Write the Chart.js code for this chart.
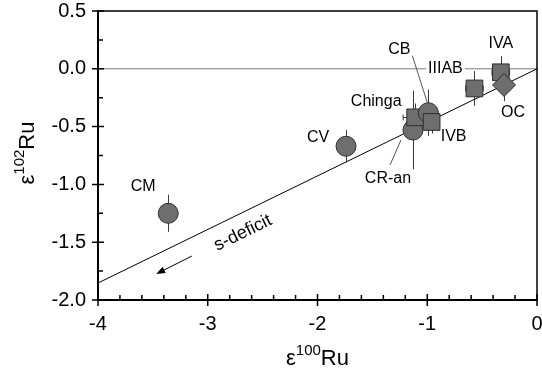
<!DOCTYPE html>
<html>
<head>
<meta charset="utf-8">
<script src="https://cdn.jsdelivr.net/npm/chart.js@4.4.1/dist/chart.umd.min.js"></script>
<style>
  html, body { margin: 0; padding: 0; background: #fff; overflow: hidden; }
  canvas { display: block; }
</style>
</head>
<body>
<canvas id="chart-ru" width="542" height="370"></canvas>
<script>
// Ru isotope anomalies of meteorite groups
var groups = ["CM", "CV", "CR-an", "Chinga", "CB", "IVB", "IIIAB", "IVA", "OC"];
var eps100 = [-3.36, -1.74, -1.13, -1.11, -0.99, -0.96, -0.57, -0.33, -0.30];
var eps102 = [-1.25, -0.67, -0.53, -0.42, -0.38, -0.46, -0.17, -0.03, -0.14];
var err102 = [0.16, 0.14, 0.34, 0.12, 0.20, 0.10, 0.15, 0.14, 0.14];
var err100 = [0, 0, 0, 0.11, 0, 0.06, 0.08, 0.08, 0];
var markers = ["circle", "circle", "circle", "rect", "circle", "rect", "rect", "rect", "rectRot"];

// s-process deficit mixing line through the origin
var mixX = [-4, 0];
var mixY = [-1.853, 0];

var xTicks = [-4, -3, -2, -1, 0];
var yTicks = [0.5, 0.0, -0.5, -1.0, -1.5, -2.0];

var FONT = "'Liberation Sans', Arial, sans-serif";

// plot box in canvas pixels
var BOX = { left: 98, top: 11, right: 537, bottom: 300 };

// label placement (pixel offsets from the marker) and leader lines
var labelStyle = {
    "CM": { dx: -25, dy: -27 },
    "CV": { dx: -28, dy: -9 },
    "CR-an": { dx: -25, dy: 49, leader: [[-23, 35], [-12, 10]] },
    "Chinga": { dx: -39, dy: -16 },
    "CB": { dx: -29, dy: -63, leader: [[-16, -57], [-1, -10]] },
    "IVB": { dx: 22, dy: 15 },
    "IIIAB": { dx: -29, dy: -20, box: true },
    "IVA": { dx: 0, dy: -29 },
    "OC": { dx: 9, dy: 28 }
};

var radiusFor = { circle: 10, rect: 11.8, rectRot: 11.5 };

var points = groups.map(function (g, i) {
    return { x: eps100[i], y: eps102[i] };
});

function drawEps(ctx, x, y, mass, rotate) {
    ctx.save();
    ctx.translate(x, y);
    if (rotate) ctx.rotate(-Math.PI / 2);
    ctx.fillStyle = "#000";
    ctx.textBaseline = "alphabetic";
    var big = "22px " + FONT;
    var small = "15px " + FONT;
    ctx.font = big;
    var w1 = ctx.measureText("\u03b5").width;
    var w3 = ctx.measureText("Ru").width;
    ctx.font = small;
    var w2 = ctx.measureText(mass).width;
    var total = w1 + w2 + w3;
    var x0 = -total / 2;
    ctx.font = big;
    ctx.textAlign = "left";
    ctx.fillText("\u03b5", x0, 8);
    ctx.font = small;
    ctx.fillText(mass, x0 + w1, -2);
    ctx.font = big;
    ctx.fillText("Ru", x0 + w1 + w2, 8);
    ctx.restore();
}

// drop the automatic label overhang so the plot box sits where the layout says
function fixBox(size, key) {
    return function (scale) {
        scale[key] = size;
        scale.paddingTop = 0;
        scale.paddingBottom = 0;
        scale.paddingLeft = 0;
        scale.paddingRight = 0;
    };
}

var framePlugin = {
    id: "frame",
    // pin the plot area, then let the scales recompute their pixel ranges
    afterLayout: function (chart) {
        var a = chart.chartArea, xs = chart.scales.x, ys = chart.scales.y;
        a.left = BOX.left; a.right = BOX.right; a.top = BOX.top; a.bottom = BOX.bottom;
        a.width = a.right - a.left; a.height = a.bottom - a.top;
        xs.left = a.left; xs.right = a.right; xs.width = a.width;
        xs.top = a.bottom; xs.bottom = chart.height; xs.height = xs.bottom - xs.top;
        ys.top = a.top; ys.bottom = a.bottom; ys.height = a.height;
        ys.left = 0; ys.right = a.left; ys.width = a.left;
        xs.configure();
        ys.configure();
    },
    beforeDatasetDraw: function (chart, args) {
        if (args.index !== 0) return;
        // error bars under the markers
        var xs = chart.scales.x, ys = chart.scales.y, ctx = chart.ctx;
        ctx.save();
        ctx.strokeStyle = "#3a3a3a";
        ctx.lineWidth = 1;
        groups.forEach(function (g, i) {
            var px = Math.round(xs.getPixelForValue(eps100[i])) + 0.5;
            var py = Math.round(ys.getPixelForValue(eps102[i])) + 0.5;
            if (err102[i] > 0) {
                ctx.beginPath();
                ctx.moveTo(px, ys.getPixelForValue(eps102[i] + err102[i]));
                ctx.lineTo(px, ys.getPixelForValue(eps102[i] - err102[i]));
                ctx.stroke();
            }
            if (err100[i] > 0) {
                var l = xs.getPixelForValue(eps100[i] - err100[i]);
                var r = xs.getPixelForValue(eps100[i] + err100[i]);
                ctx.beginPath();
                ctx.moveTo(l, py);
                ctx.lineTo(r, py);
                ctx.moveTo(l, py - 3);
                ctx.lineTo(l, py + 3);
                ctx.moveTo(r, py - 3);
                ctx.lineTo(r, py + 3);
                ctx.stroke();
            }
        });
        ctx.restore();
    },
    afterDraw: function (chart) {
        var ctx = chart.ctx, a = chart.chartArea;
        var xs = chart.scales.x, ys = chart.scales.y;
        ctx.save();

        // labels
        ctx.font = "16px " + FONT;
        ctx.textAlign = "center";
        ctx.textBaseline = "middle";
        groups.forEach(function (g, i) {
            var s = labelStyle[g];
            var px = xs.getPixelForValue(eps100[i]);
            var py = ys.getPixelForValue(eps102[i]);
            var lx = px + s.dx, ly = py + s.dy;
            if (s.box) {
                var w = ctx.measureText(g).width;
                ctx.fillStyle = "#fff";
                ctx.fillRect(lx - w / 2 - 2, ly - 8, w + 4, 16);
            }
            if (s.leader) {
                ctx.strokeStyle = "#555";
                ctx.lineWidth = 1;
                ctx.beginPath();
                ctx.moveTo(px + s.leader[0][0], py + s.leader[0][1]);
                ctx.lineTo(px + s.leader[1][0], py + s.leader[1][1]);
                ctx.stroke();
            }
            ctx.fillStyle = "#000";
            ctx.fillText(g, lx, ly);
        });

        // s-deficit note and arrow along the mixing line
        var ang = Math.atan2(ys.getPixelForValue(0) - ys.getPixelForValue(-1.853),
                             xs.getPixelForValue(0) - xs.getPixelForValue(-4));
        ctx.save();
        ctx.translate(xs.getPixelForValue(-2.68), ys.getPixelForValue(-1.42));
        ctx.rotate(ang);
        ctx.font = "18px " + FONT;
        ctx.fillStyle = "#000";
        ctx.fillText("s-deficit", 0, 0);
        ctx.restore();

        var ax0 = xs.getPixelForValue(-3.145), ay0 = ys.getPixelForValue(-1.62);
        var ax1 = xs.getPixelForValue(-3.47), ay1 = ys.getPixelForValue(-1.775);
        var th = Math.atan2(ay1 - ay0, ax1 - ax0);
        ctx.strokeStyle = "#000";
        ctx.fillStyle = "#000";
        ctx.lineWidth = 1;
        ctx.beginPath();
        ctx.moveTo(ax0, ay0);
        ctx.lineTo(ax1 - 6 * Math.cos(th), ay1 - 6 * Math.sin(th));
        ctx.stroke();
        ctx.beginPath();
        ctx.moveTo(ax1, ay1);
        ctx.lineTo(ax1 - 9 * Math.cos(th) + 3.5 * Math.sin(th), ay1 - 9 * Math.sin(th) - 3.5 * Math.cos(th));
        ctx.lineTo(ax1 - 9 * Math.cos(th) - 3.5 * Math.sin(th), ay1 - 9 * Math.sin(th) + 3.5 * Math.cos(th));
        ctx.closePath();
        ctx.fill();

        // axis box
        ctx.strokeStyle = "#000";
        ctx.lineWidth = 1.5;
        ctx.strokeRect(a.left, a.top, a.right - a.left, a.bottom - a.top);
        ctx.lineWidth = 2;
        ctx.beginPath();
        ctx.moveTo(a.left, a.top);
        ctx.lineTo(a.left, a.bottom);
        ctx.lineTo(a.right, a.bottom);
        ctx.stroke();

        // tick marks: majors cross the axis, minors point inward
        ctx.lineWidth = 1.5;
        ctx.beginPath();
        var v, p;
        for (v = -4; v <= 0.001; v += 0.2) {
            p = xs.getPixelForValue(v);
            var major = Math.abs(v - Math.round(v)) < 0.01;
            ctx.moveTo(p, a.bottom + (major ? 6 : 0));
            ctx.lineTo(p, a.bottom - (major ? 6 : 5));
        }
        for (v = -2; v <= 0.501; v += 0.25) {
            p = ys.getPixelForValue(v);
            var majorY = Math.abs(v * 2 - Math.round(v * 2)) < 0.01;
            ctx.moveTo(a.left - (majorY ? 6 : 0), p);
            ctx.lineTo(a.left + (majorY ? 6 : 5), p);
        }
        ctx.stroke();

        // axis titles
        drawEps(ctx, (a.left + a.right) / 2, 357, "100", false);
        drawEps(ctx, 26, 153, "102", true);
        ctx.restore();
    }
};

new Chart(document.getElementById("chart-ru"), {
    type: "scatter",
    data: {
        datasets: [
            {
                label: "groups",
                data: points,
                pointStyle: markers,
                pointRadius: markers.map(function (m) { return radiusFor[m]; }),
                pointBackgroundColor: "#6e6e6e",
                pointBorderColor: "#2e2e2e",
                pointBorderWidth: 1,
                showLine: false,
                clip: false,
                order: 0
            },
            {
                label: "mixing",
                data: mixX.map(function (x, i) { return { x: x, y: mixY[i] }; }),
                showLine: true,
                borderColor: "#000",
                borderWidth: 1,
                pointRadius: 0,
                order: 2
            },
            {
                label: "zero",
                data: [{ x: -4, y: 0 }, { x: 0, y: 0 }],
                showLine: true,
                borderColor: "#7c7c7c",
                borderWidth: 1,
                pointRadius: 0,
                order: 3
            }
        ]
    },
    options: {
        responsive: false,
        animation: false,
        layout: { padding: { top: 11, right: 5, left: 0, bottom: 0 } },
        plugins: {
            legend: { display: false },
            tooltip: { enabled: false }
        },
        scales: {
            x: {
                type: "linear",
                min: -4,
                max: 0,
                afterBuildTicks: function (scale) {
                    scale.ticks = xTicks.map(function (v) { return { value: v }; });
                },
                afterFit: fixBox(70, "height"),
                grid: { display: false, drawTicks: false },
                border: { display: false },
                ticks: {
                    padding: 12,
                    color: "#000",
                    font: { family: FONT, size: 20 },
                    callback: function (v) { return String(v); }
                }
            },
            y: {
                type: "linear",
                min: -2,
                max: 0.5,
                afterBuildTicks: function (scale) {
                    scale.ticks = yTicks.map(function (v) { return { value: v }; });
                },
                afterFit: fixBox(98, "width"),
                grid: { display: false, drawTicks: false },
                border: { display: false },
                ticks: {
                    padding: 12,
                    color: "#000",
                    font: { family: FONT, size: 20 },
                    callback: function (v) { return v.toFixed(1); }
                }
            }
        }
    },
    plugins: [framePlugin]
});
</script>
</body>
</html>
